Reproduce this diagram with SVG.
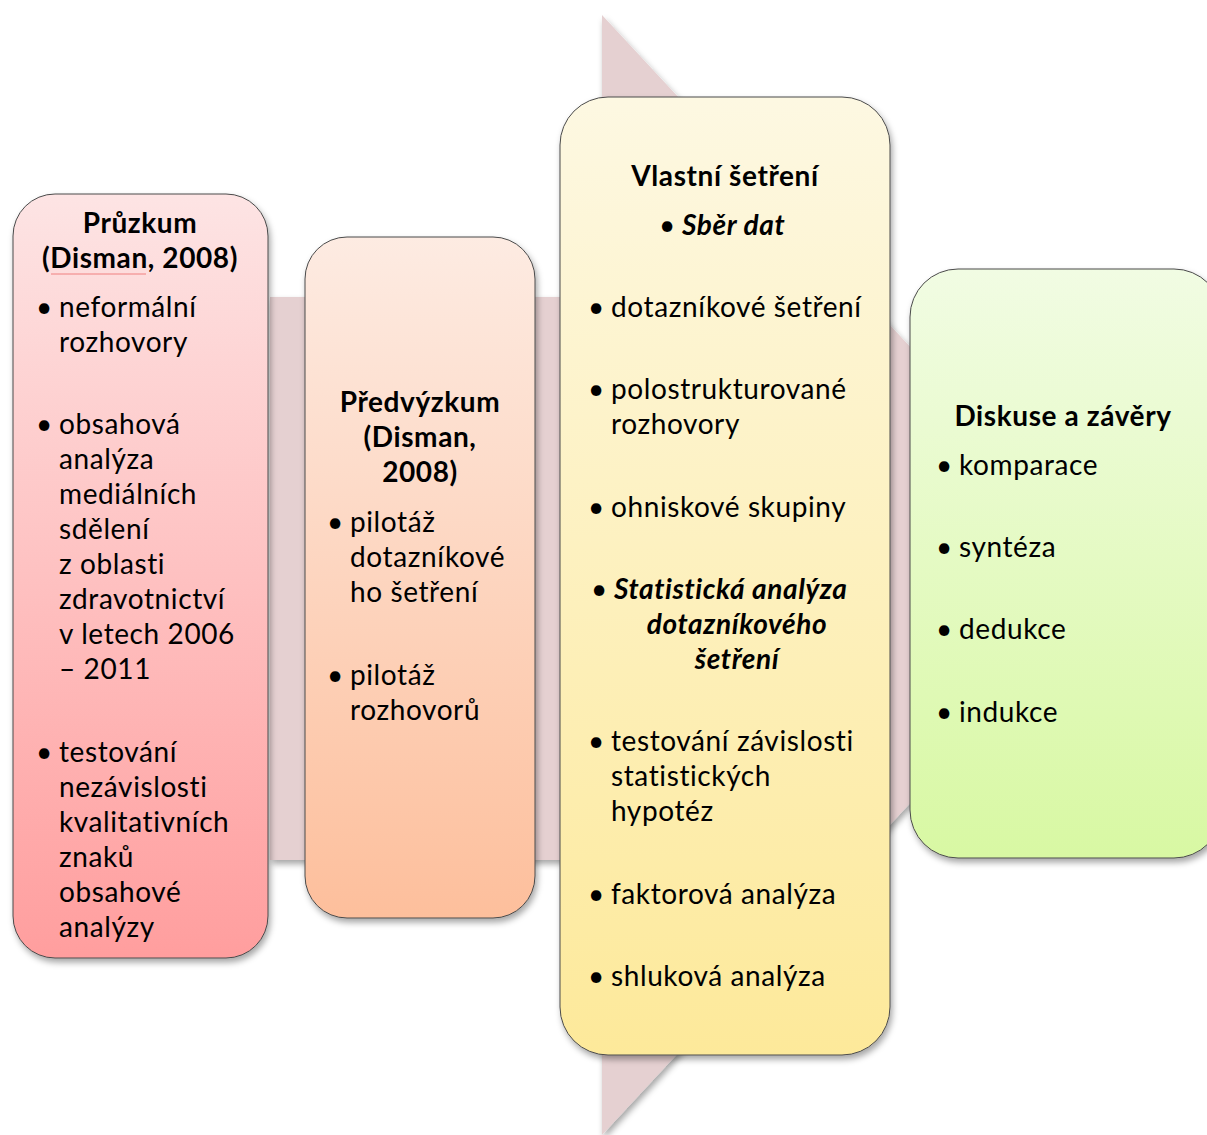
<svg xmlns="http://www.w3.org/2000/svg" width="1207" height="1135" viewBox="0 0 1207 1135">
  <defs>
    <linearGradient id="gPink" x1="0" y1="0" x2="0" y2="1">
      <stop offset="0" stop-color="#fde4e4"/>
      <stop offset="1" stop-color="#ff9e9e"/>
    </linearGradient>
    <linearGradient id="gPeach" x1="0" y1="0" x2="0" y2="1">
      <stop offset="0" stop-color="#fdebe2"/>
      <stop offset="1" stop-color="#fdbf9c"/>
    </linearGradient>
    <linearGradient id="gYellow" x1="0" y1="0" x2="0" y2="1">
      <stop offset="0" stop-color="#fdf8e2"/>
      <stop offset="1" stop-color="#fde99a"/>
    </linearGradient>
    <linearGradient id="gGreen" x1="0" y1="0" x2="0" y2="1">
      <stop offset="0" stop-color="#f1fce3"/>
      <stop offset="1" stop-color="#d8f8a3"/>
    </linearGradient>
    <filter id="shadow" x="-10%" y="-10%" width="130%" height="130%">
      <feDropShadow dx="2" dy="4" stdDeviation="3" flood-color="#000" flood-opacity="0.35"/>
    </filter>
  </defs>
  <style>
    .box { stroke: #4a4a4a; stroke-width: 1; filter: url(#shadow); }
    text { font-family: Lato, "Liberation Sans", sans-serif; font-size: 28px; letter-spacing: 0.6px; fill: #000; }
    .h { font-weight: bold; text-anchor: middle; }
    .bi { font-weight: bold; font-style: italic; }
    .c { text-anchor: middle; }
  </style>

  <!-- background process arrow -->
  <g id="flow-arrow">
    <path d="M270,297 H602 V15 L1122,575 L602,1135 V860 H270 Z" fill="#e5d0d1" filter="url(#shadow)"/>
  </g>

  <!-- stage 1 -->
  <g id="node-pruzkum">
    <rect class="box" x="13" y="194" width="255" height="764" rx="42" fill="url(#gPink)"/>
    <text class="h" x="140" y="233">Průzkum</text>
    <text class="h" x="140" y="268">(Disman, 2008)</text>
    <path d="M51,274 H146" stroke="#f08080" stroke-width="1" fill="none"/>
    <text x="36" y="317">•</text>
    <text x="59" y="317">neformální</text>
    <text x="59" y="352">rozhovory</text>
    <text x="36" y="434">•</text>
    <text x="59" y="434">obsahová</text>
    <text x="59" y="469">analýza</text>
    <text x="59" y="504">mediálních</text>
    <text x="59" y="539">sdělení</text>
    <text x="59" y="574">z oblasti</text>
    <text x="59" y="609">zdravotnictví</text>
    <text x="59" y="644">v letech 2006</text>
    <text x="59" y="679">– 2011</text>
    <text x="36" y="762">•</text>
    <text x="59" y="762">testování</text>
    <text x="59" y="797">nezávislosti</text>
    <text x="59" y="832">kvalitativních</text>
    <text x="59" y="867">znaků</text>
    <text x="59" y="902">obsahové</text>
    <text x="59" y="937">analýzy</text>
  </g>

  <!-- stage 2 -->
  <g id="node-predvyzkum">
    <rect class="box" x="305" y="237" width="230" height="681" rx="42" fill="url(#gPeach)"/>
    <text class="h" x="420" y="412">Předvýzkum</text>
    <text class="h" x="420" y="447">(Disman,</text>
    <text class="h" x="420" y="482">2008)</text>
    <text x="327" y="532">•</text>
    <text x="350" y="532">pilotáž</text>
    <text x="350" y="567">dotazníkové</text>
    <text x="350" y="602">ho šetření</text>
    <text x="327" y="685">•</text>
    <text x="350" y="685">pilotáž</text>
    <text x="350" y="720">rozhovorů</text>
  </g>

  <!-- stage 3 -->
  <g id="node-vlastni-setreni">
    <rect class="box" x="560" y="97" width="330" height="958" rx="48" fill="url(#gYellow)"/>
    <text class="h" x="725" y="186">Vlastní šetření</text>
    <text x="659" y="235">•</text>
    <text class="bi" x="682" y="235">Sběr dat</text>
    <text x="588" y="317">•</text>
    <text x="611" y="317">dotazníkové šetření</text>
    <text x="588" y="399">•</text>
    <text x="611" y="399">polostrukturované</text>
    <text x="611" y="434">rozhovory</text>
    <text x="588" y="517">•</text>
    <text x="611" y="517">ohniskové skupiny</text>
    <text x="591" y="599">•</text>
    <text class="bi" x="614" y="599">Statistická analýza</text>
    <text class="bi c" x="737" y="634">dotazníkového</text>
    <text class="bi c" x="737" y="669">šetření</text>
    <text x="588" y="751">•</text>
    <text x="611" y="751">testování závislosti</text>
    <text x="611" y="786">statistických</text>
    <text x="611" y="821">hypotéz</text>
    <text x="588" y="904">•</text>
    <text x="611" y="904">faktorová analýza</text>
    <text x="588" y="986">•</text>
    <text x="611" y="986">shluková analýza</text>
  </g>

  <!-- stage 4 -->
  <g id="node-diskuse">
    <rect class="box" x="910" y="269" width="312" height="589" rx="48" fill="url(#gGreen)"/>
    <text class="h" x="1063" y="426">Diskuse a závěry</text>
    <text x="936" y="475">•</text>
    <text x="959" y="475">komparace</text>
    <text x="936" y="557">•</text>
    <text x="959" y="557">syntéza</text>
    <text x="936" y="639">•</text>
    <text x="959" y="639">dedukce</text>
    <text x="936" y="722">•</text>
    <text x="959" y="722">indukce</text>
  </g>
</svg>
